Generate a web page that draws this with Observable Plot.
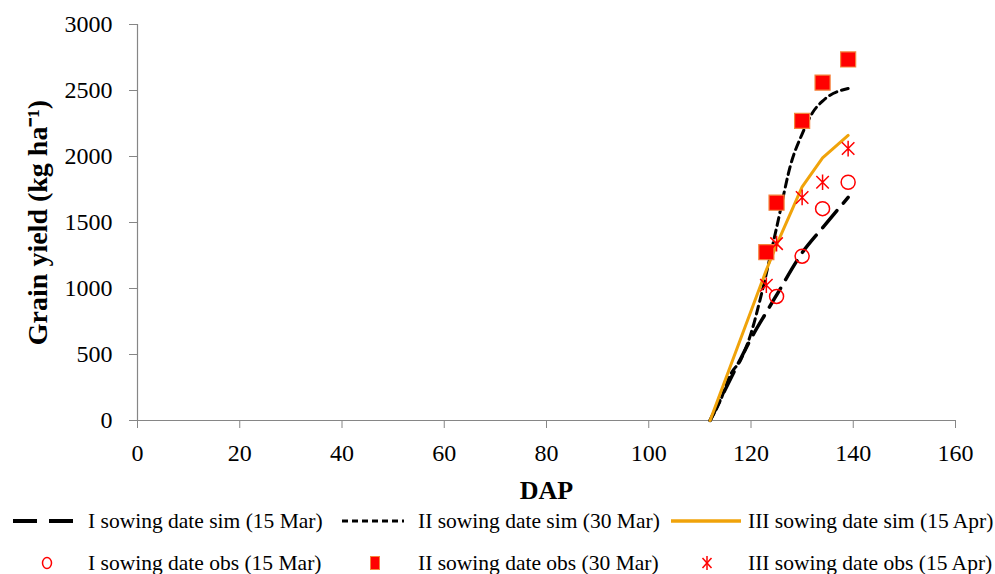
<!DOCTYPE html>
<html>
<head>
<meta charset="utf-8">
<script src="https://cdn.jsdelivr.net/npm/d3@7"></script>
<script src="https://cdn.jsdelivr.net/npm/@observablehq/plot@0.6"></script>
<style>
  html, body { margin: 0; padding: 0; background: #fff; }
  #wrap { width: 995px; font-family: "Liberation Serif", "Times New Roman", serif; }
  #legend { position: relative; width: 995px; height: 64px; font-size: 21.5px; color: #000; }
  #legend svg { position: absolute; }
  #legend span { position: absolute; white-space: nowrap; line-height: 26px; }
</style>
</head>
<body>
<div id="wrap"></div>
<script>
// ---- data ----
const simIdap  = [112, 118, 120, 123, 125, 130, 134, 139];
const simI     = [0, 470, 620, 820, 950, 1270, 1460, 1690];
const simIIdap = [112, 114, 116, 118, 120, 122, 125, 128, 130, 132, 134, 139];
const simII    = [0, 150, 350, 460, 660, 950, 1460, 1970, 2170, 2330, 2420, 2515];
const simIIIdap = [112, 123, 125, 130, 134, 139];
const simIII    = [0, 1140, 1330, 1770, 1990, 2160];

const obsIdap   = [125, 130, 134, 139];
const obsI      = [940, 1245, 1605, 1805];
const obsIIdap  = [123, 125, 130, 134, 139];
const obsII     = [1275, 1650, 2270, 2560, 2735];
const obsIIIdap = [123, 125, 130, 134, 139];
const obsIII    = [1025, 1340, 1690, 1805, 2060];

const xTicks = [0, 20, 40, 60, 80, 100, 120, 140, 160];
const yTicks = [0, 500, 1000, 1500, 2000, 2500, 3000];

const seriesNames = [
  "I sowing date sim (15 Mar)", "II sowing date sim (30 Mar)", "III sowing date sim (15 Apr)",
  "I sowing date obs (15 Mar)", "II sowing date obs (30 Mar)", "III sowing date obs (15 Apr)"
];

const toRows = (xs, ys) => xs.map((x, i) => ({x, y: ys[i]}));

// Excel-like star marker: vertical line plus an X
const starSymbol = {
  draw(context, size) {
    const r = Math.sqrt(size) / 2;
    const d = r * 0.8;
    context.moveTo(0, -r); context.lineTo(0, r);
    context.moveTo(-d, -d); context.lineTo(d, d);
    context.moveTo(-d, d); context.lineTo(d, -d);
  }
};

const gray = "#868686";
const orange = "#f0a30a";
const serif = "'Liberation Serif', 'Times New Roman', serif";

const chart = Plot.plot({
  width: 995,
  height: 510,
  marginLeft: 137,
  marginRight: 40,
  marginTop: 24,
  marginBottom: 90,
  style: { fontFamily: serif, fontSize: "24px", color: "#000", background: "#fff" },
  x: { domain: [0, 160] },
  y: { domain: [0, 3000] },
  marks: [
    Plot.axisX({ ticks: xTicks, tickFormat: d3.format("d"), tickSize: 8, tickPadding: 15, stroke: gray, label: null, fill: "#000", fontSize: 24 }),
    Plot.axisY({ ticks: yTicks, tickFormat: d3.format("d"), tickSize: 8, tickPadding: 17, stroke: gray, label: null, fill: "#000", fontSize: 24 }),
    Plot.ruleX([0], { stroke: gray, strokeWidth: 1.2 }),
    Plot.ruleY([0], { stroke: gray, strokeWidth: 1.2 }),
    Plot.line(toRows(simIdap, simI), { x: "x", y: "y", stroke: "#000", strokeWidth: 3.5, strokeDasharray: "22,10", curve: "monotone-x" }),
    Plot.line(toRows(simIIdap, simII), { x: "x", y: "y", stroke: "#000", strokeWidth: 3, strokeDasharray: "8,5", curve: "monotone-x" }),
    Plot.line(toRows(simIIIdap, simIII), { x: "x", y: "y", stroke: orange, strokeWidth: 3 }),
    Plot.dot(toRows(obsIdap, obsI), { x: "x", y: "y", r: 7, stroke: "#ff0000", strokeWidth: 1.5, fill: "none" }),
    Plot.dot(toRows(obsIIdap, obsII), { x: "x", y: "y", symbol: "square", r: 8.5, fill: "#ff0000", stroke: "#f5843c", strokeWidth: 1.2 }),
    Plot.dot(toRows(obsIIIdap, obsIII), { x: "x", y: "y", symbol: starSymbol, r: 8.8, stroke: "#ff0000", strokeWidth: 1.5, fill: "none" }),
    Plot.text(["Grain yield (kg ha⁻¹)"], { frameAnchor: "left", textAnchor: "middle", dx: -99, rotate: -90, fontWeight: "bold", fontSize: 28, fill: "#000" }),
    Plot.text(["DAP"], { frameAnchor: "bottom", lineAnchor: "middle", dy: 70, fontWeight: "bold", fontSize: 26, fill: "#000" })
  ]
});

// make sure every text in the chart uses the serif face
d3.select(chart).selectAll("text").style("font-family", serif);

const wrap = document.getElementById("wrap");
wrap.appendChild(chart);

// ---- legend below the SVG ----
const legend = document.createElement("div");
legend.id = "legend";
wrap.appendChild(legend);

const items = [
  { row: 0, swX: 13, txtX: 88, type: "longdash", name: seriesNames[0] },
  { row: 0, swX: 342, txtX: 418, type: "dotted", name: seriesNames[1] },
  { row: 0, swX: 671, txtX: 748, type: "solid", name: seriesNames[2] },
  { row: 1, swX: 47, txtX: 88, type: "circle", name: seriesNames[3] },
  { row: 1, swX: 375, txtX: 418, type: "square", name: seriesNames[4] },
  { row: 1, swX: 707, txtX: 748, type: "star", name: seriesNames[5] }
];
const rowY = [11, 53];
const ns = "http://www.w3.org/2000/svg";
for (const it of items) {
  const cy = rowY[it.row];
  const s = document.createElementNS(ns, "svg");
  let html = "";
  if (it.type === "longdash") {
    s.setAttribute("width", 70); s.setAttribute("height", 12);
    s.style.left = it.swX + "px"; s.style.top = (cy - 6) + "px";
    html = `<line x1="0" y1="6" x2="60" y2="6" stroke="#000" stroke-width="4" stroke-dasharray="24,12"/>`;
  } else if (it.type === "dotted") {
    s.setAttribute("width", 70); s.setAttribute("height", 12);
    s.style.left = it.swX + "px"; s.style.top = (cy - 6) + "px";
    html = `<line x1="0" y1="6" x2="62" y2="6" stroke="#000" stroke-width="3" stroke-dasharray="6,4"/>`;
  } else if (it.type === "solid") {
    s.setAttribute("width", 75); s.setAttribute("height", 12);
    s.style.left = it.swX + "px"; s.style.top = (cy - 6) + "px";
    html = `<line x1="0" y1="6" x2="70" y2="6" stroke="${orange}" stroke-width="3.5"/>`;
  } else if (it.type === "circle") {
    s.setAttribute("width", 20); s.setAttribute("height", 20);
    s.style.left = (it.swX - 10) + "px"; s.style.top = (cy - 10) + "px";
    html = `<ellipse cx="10" cy="10" rx="4.5" ry="5.5" fill="none" stroke="#ff0000" stroke-width="1.5"/>`;
  } else if (it.type === "square") {
    s.setAttribute("width", 20); s.setAttribute("height", 20);
    s.style.left = (it.swX - 10) + "px"; s.style.top = (cy - 10) + "px";
    html = `<rect x="5.5" y="3.5" width="9" height="13" fill="#ff0000" stroke="#f5843c" stroke-width="1"/>`;
  } else if (it.type === "star") {
    s.setAttribute("width", 20); s.setAttribute("height", 20);
    s.style.left = (it.swX - 10) + "px"; s.style.top = (cy - 10) + "px";
    html = `<g stroke="#ff0000" stroke-width="1.5"><line x1="10" y1="3" x2="10" y2="17"/><line x1="5.5" y1="5" x2="14.5" y2="15"/><line x1="5.5" y1="15" x2="14.5" y2="5"/></g>`;
  }
  s.innerHTML = html;
  legend.appendChild(s);
  const t = document.createElement("span");
  t.textContent = it.name;
  t.style.left = it.txtX + "px";
  t.style.top = (cy - 13) + "px";
  legend.appendChild(t);
}
</script>
</body>
</html>
